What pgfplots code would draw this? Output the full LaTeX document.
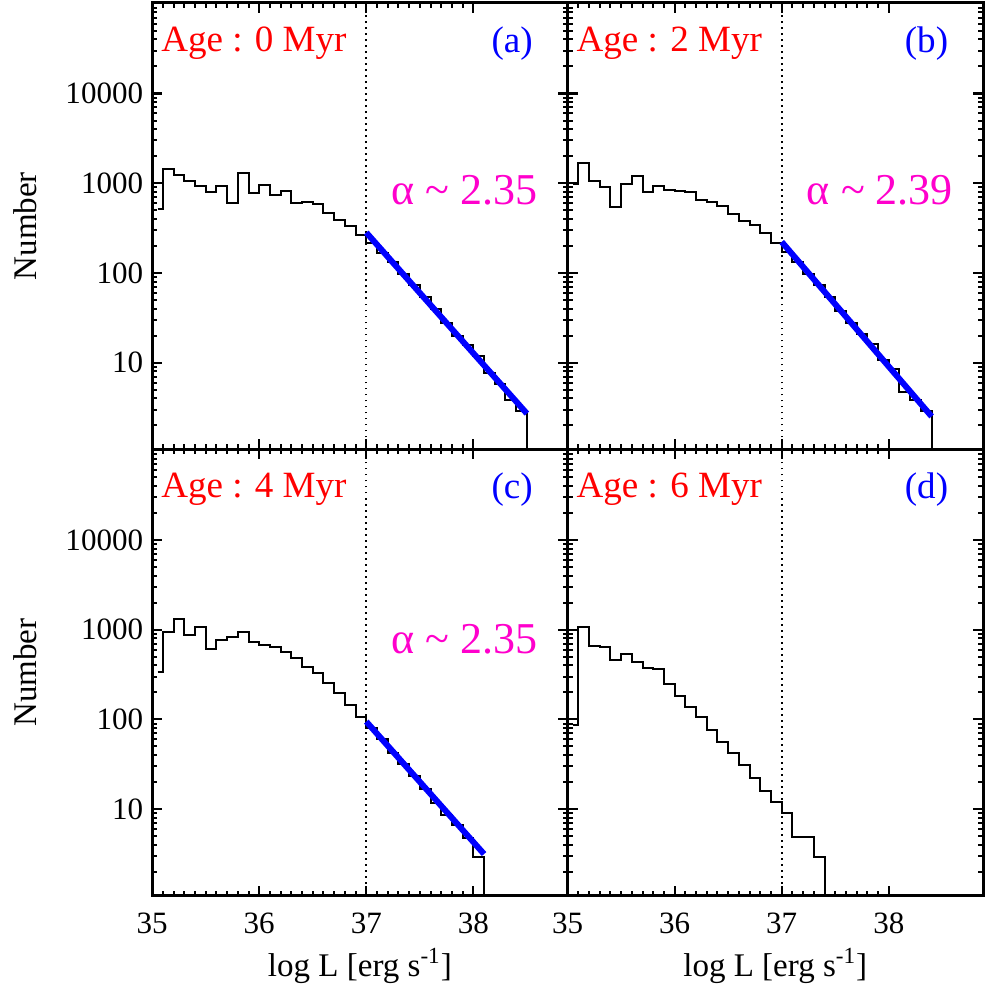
\documentclass[border=0pt]{standalone}
\usepackage{fontspec}
\setmainfont{Liberation Serif}
\usepackage{pgfplots}
\pgfplotsset{compat=1.18}
\usepgfplotslibrary{groupplots}
\usetikzlibrary{calc}
\definecolor{alphapink}{RGB}{255,0,204}

\pgfplotsset{
  hist/.style={black, line width=1pt, const plot mark mid, mark=none},
  fit/.style={blue, line width=3pt, mark=none},
  cut/.style={black, line width=0.9pt, dash pattern=on 0.9pt off 2.1pt, mark=none},
}
\tikzset{
  agelbl/.style={anchor=west, text=red, font=\fontsize{18.5}{18.5}\selectfont},
  panlbl/.style={anchor=east, text=blue, font=\fontsize{18.5}{18.5}\selectfont},
  slope/.style={text=alphapink, font=\fontsize{22}{22}\selectfont},
}

\begin{document}
\begin{tikzpicture}
\begin{groupplot}[
  group style={group size=2 by 2, horizontal sep=0pt, vertical sep=0pt,
    xticklabels at=edge bottom, yticklabels at=edge left,
    xlabels at=edge bottom, ylabels at=edge left},
  scale only axis, width=207.5pt, height=223pt,
  xmin=35, xmax=38.88, ymode=log, ymin=1.08, ymax=1.02e5,
  xtick={35,36,37,38}, minor x tick num=9,
  ytick={10,100,1000,10000}, yticklabels={10,100,1000,10000},
  minor ytick={2,3,4,5,6,7,8,9,20,30,40,50,60,70,80,90,200,300,400,500,600,700,800,900,
    2000,3000,4000,5000,6000,7000,8000,9000,20000,30000,40000,50000,60000,70000,80000,90000},
  axis line style={line width=1.5pt},
  major tick length=5pt, minor tick length=2.5pt,
  every tick/.style={black, line width=1pt},
  tick align=inside,
  ticklabel style={font=\fontsize{15.5}{15.5}\selectfont},
  xticklabel style={yshift=-5pt},
  yticklabel style={xshift=-1pt},
  /pgf/number format/assume math mode=true,
  every axis x label/.style={at={(rel axis cs:0.5,0)}, yshift=-35pt, anchor=center,
    font=\fontsize{16.5}{16.5}\selectfont},
  every axis y label/.style={at={(rel axis cs:0,0.5)}, xshift=-63.5pt, rotate=90, anchor=center,
    font=\fontsize{16.5}{16.5}\selectfont},
  xlabel={log L [erg s\textsuperscript{-1}]},
  ylabel={Number},
]

% (a) 0 Myr
\nextgroupplot
\coordinate (tl) at (rel axis cs:0,1);
\addplot[hist] coordinates {
 (35.05,522)(35.15,1433)(35.25,1250)(35.35,1052)(35.45,926)(35.55,800)(35.65,926)
 (35.75,609)(35.85,1315)(35.95,787)(36.05,950)(36.15,735)(36.25,815)(36.35,609)
 (36.45,619)(36.55,594)(36.65,471)(36.75,386)(36.85,334)(36.95,268)(37.05,216)
 (37.15,167)(37.25,131)(37.35,97)(37.45,73)(37.55,54)(37.65,40)(37.75,28)
 (37.85,20)(37.95,15.6)(38.05,11.9)(38.15,7.7)(38.25,5.8)(38.35,3.8)(38.45,2.9)
 (38.55,0.1)};
\addplot[cut] coordinates {(37,1.08)(37,1.02e5)};
\addplot[fit] coordinates {(37,282)(38.5,2.71)};
\node[agelbl] at (rel axis cs:0.005,0.91) {Age : 0 Myr};
\node[panlbl] at (rel axis cs:0.933,0.91) {(a)};
\node[slope] at (rel axis cs:0.752,0.58) {α \textasciitilde{} 2.35};

% (b) 2 Myr
\nextgroupplot
\addplot[hist] coordinates {
 (35.05,993)(35.15,1683)(35.25,1052)(35.35,910)(35.45,545)(35.55,975)(35.65,1208)
 (35.75,800)(35.85,933)(35.95,836)(36.05,815)(36.15,800)(36.25,646)(36.35,614)
 (36.45,554)(36.55,451)(36.65,380)(36.75,341)(36.85,279)(36.95,218)(37.05,171)
 (37.15,133)(37.25,98)(37.35,73)(37.45,54)(37.55,38)(37.65,28)(37.75,21)
 (37.85,16.3)(37.95,10.6)(38.05,8.6)(38.15,4.7)(38.25,3.8)(38.35,2.9)(38.45,0.1)};
\addplot[cut] coordinates {(37,1.08)(37,1.02e5)};
\addplot[fit] coordinates {(37,222)(38.4,2.52)};
\node[agelbl] at (rel axis cs:0.005,0.91) {Age : 2 Myr};
\node[panlbl] at (rel axis cs:0.933,0.91) {(b)};
\node[slope] at (rel axis cs:0.752,0.58) {α \textasciitilde{} 2.39};

% (c) 4 Myr
\nextgroupplot
\addplot[hist] coordinates {
 (35.05,341)(35.15,935)(35.25,1306)(35.35,873)(35.45,1081)(35.55,604)(35.65,767)
 (35.75,837)(35.85,953)(35.95,724)(36.05,675)(36.15,648)(36.25,560)(36.35,489)
 (36.45,388)(36.55,327)(36.65,257)(36.75,195)(36.85,145)(36.95,107)(37.05,81)
 (37.15,60)(37.25,42)(37.35,31.6)(37.45,23.4)(37.55,16.6)(37.65,11.6)(37.75,8.7)
 (37.85,6.7)(37.95,4.8)(38.05,2.9)(38.15,0.1)};
\addplot[cut] coordinates {(37,1.08)(37,1.02e5)};
\addplot[fit] coordinates {(37,94.5)(38.1,3.16)};
\node[agelbl] at (rel axis cs:0.005,0.91) {Age : 4 Myr};
\node[panlbl] at (rel axis cs:0.933,0.91) {(c)};
\node[slope] at (rel axis cs:0.752,0.576) {α \textasciitilde{} 2.35};

% (d) 6 Myr
\nextgroupplot
\coordinate (br) at (rel axis cs:1,0);
\addplot[hist] coordinates {
 (35.05,87)(35.15,1063)(35.25,665)(35.35,648)(35.45,459)(35.55,532)(35.65,434)
 (35.75,372)(35.85,365)(35.95,248)(36.05,184)(36.15,139)(36.25,107)(36.35,76)
 (36.45,56.5)(36.55,42)(36.65,31)(36.75,22)(36.85,15.9)(36.95,12.1)(37.05,9.0)
 (37.15,4.9)(37.25,4.9)(37.35,2.95)(37.45,0.1)};
\addplot[cut] coordinates {(37,1.08)(37,1.02e5)};
\node[agelbl] at (rel axis cs:0.005,0.91) {Age : 6 Myr};
\node[panlbl] at (rel axis cs:0.933,0.91) {(d)};
\end{groupplot}
\pgfresetboundingbox
\path ($(tl)+(-76pt,1.5pt)$) rectangle ($(br)+(0.8pt,-47pt)$);
\end{tikzpicture}
\end{document}
